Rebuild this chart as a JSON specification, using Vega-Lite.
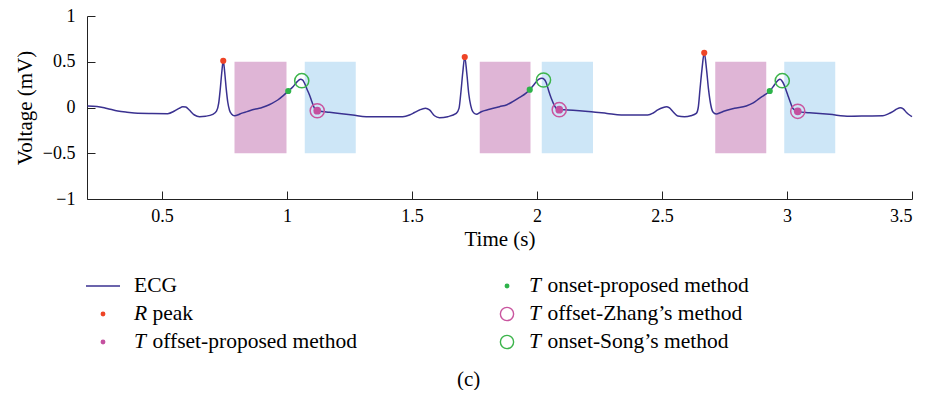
{
  "$schema": "https://vega.github.io/schema/vega-lite/v6.json",
  "padding": {"left": 14, "top": 7, "right": 0, "bottom": 0},
  "autosize": {"type": "pad"},
  "bounds": "flush",
  "spacing": 56,
  "config": {
    "view": {"stroke": null},
    "font": "Liberation Serif",
    "axis": {
      "grid": false,
      "domainColor": "#222222",
      "tickColor": "#222222",
      "domainWidth": 1,
      "tickWidth": 1,
      "tickSize": -8,
      "labelColor": "#000000",
      "titleColor": "#000000",
      "labelFont": "Liberation Serif",
      "titleFont": "Liberation Serif",
      "labelFontSize": 18,
      "titleFontSize": 21,
      "titleFontWeight": "normal"
    }
  },
  "title": {
    "text": "(c)",
    "orient": "bottom",
    "anchor": "middle",
    "dx": 4,
    "offset": 14,
    "fontSize": 21,
    "font": "Liberation Serif",
    "fontWeight": "normal",
    "color": "#000000"
  },
  "datasets": {
    "ecg": [
      {"t": 0.202, "v": 0.016}, {"t": 0.24, "v": 0.012}, {"t": 0.28, "v": -0.01}, {"t": 0.323, "v": -0.038},
      {"t": 0.36, "v": -0.052}, {"t": 0.403, "v": -0.064}, {"t": 0.46, "v": -0.066}, {"t": 0.523, "v": -0.067},
      {"t": 0.55, "v": -0.038}, {"t": 0.568, "v": -0.01}, {"t": 0.583, "v": 0.009}, {"t": 0.595, "v": 0.005},
      {"t": 0.608, "v": -0.025}, {"t": 0.63, "v": -0.082}, {"t": 0.65, "v": -0.1}, {"t": 0.675, "v": -0.095},
      {"t": 0.703, "v": -0.075}, {"t": 0.718, "v": -0.04}, {"t": 0.727, "v": 0.05}, {"t": 0.733, "v": 0.2},
      {"t": 0.739, "v": 0.38}, {"t": 0.745, "v": 0.511}, {"t": 0.751, "v": 0.38}, {"t": 0.757, "v": 0.2},
      {"t": 0.763, "v": 0.06}, {"t": 0.77, "v": -0.03}, {"t": 0.778, "v": -0.07}, {"t": 0.79, "v": -0.09},
      {"t": 0.805, "v": -0.08}, {"t": 0.817, "v": -0.064}, {"t": 0.84, "v": -0.045}, {"t": 0.87, "v": -0.02},
      {"t": 0.895, "v": -0.005}, {"t": 0.917, "v": 0.016}, {"t": 0.94, "v": 0.045}, {"t": 0.963, "v": 0.082},
      {"t": 0.985, "v": 0.13}, {"t": 1.005, "v": 0.18}, {"t": 1.025, "v": 0.23}, {"t": 1.04, "v": 0.28},
      {"t": 1.054, "v": 0.308}, {"t": 1.063, "v": 0.3}, {"t": 1.071, "v": 0.26}, {"t": 1.08, "v": 0.2},
      {"t": 1.09, "v": 0.137}, {"t": 1.1, "v": 0.06}, {"t": 1.11, "v": -0.009}, {"t": 1.121, "v": -0.035},
      {"t": 1.14, "v": -0.043}, {"t": 1.17, "v": -0.053}, {"t": 1.21, "v": -0.065}, {"t": 1.263, "v": -0.082},
      {"t": 1.317, "v": -0.1}, {"t": 1.39, "v": -0.1}, {"t": 1.463, "v": -0.1}, {"t": 1.49, "v": -0.082},
      {"t": 1.51, "v": -0.055}, {"t": 1.53, "v": -0.027}, {"t": 1.554, "v": -0.009}, {"t": 1.57, "v": -0.027},
      {"t": 1.59, "v": -0.09}, {"t": 1.61, "v": -0.111}, {"t": 1.643, "v": -0.1}, {"t": 1.677, "v": -0.064},
      {"t": 1.688, "v": -0.01}, {"t": 1.695, "v": 0.15}, {"t": 1.703, "v": 0.38}, {"t": 1.711, "v": 0.552},
      {"t": 1.719, "v": 0.38}, {"t": 1.727, "v": 0.15}, {"t": 1.735, "v": 0.02}, {"t": 1.743, "v": -0.046},
      {"t": 1.757, "v": -0.075}, {"t": 1.777, "v": -0.046}, {"t": 1.81, "v": -0.02}, {"t": 1.85, "v": 0.009},
      {"t": 1.88, "v": 0.03}, {"t": 1.903, "v": 0.064}, {"t": 1.93, "v": 0.11}, {"t": 1.955, "v": 0.155},
      {"t": 1.971, "v": 0.195}, {"t": 1.985, "v": 0.24}, {"t": 1.997, "v": 0.282}, {"t": 2.008, "v": 0.31},
      {"t": 2.019, "v": 0.319}, {"t": 2.03, "v": 0.305}, {"t": 2.037, "v": 0.27}, {"t": 2.047, "v": 0.18},
      {"t": 2.057, "v": 0.1}, {"t": 2.07, "v": 0.02}, {"t": 2.077, "v": -0.009}, {"t": 2.089, "v": -0.024},
      {"t": 2.123, "v": -0.027}, {"t": 2.17, "v": -0.035}, {"t": 2.217, "v": -0.046}, {"t": 2.28, "v": -0.065},
      {"t": 2.337, "v": -0.082}, {"t": 2.39, "v": -0.082}, {"t": 2.443, "v": -0.082}, {"t": 2.465, "v": -0.06},
      {"t": 2.483, "v": -0.027}, {"t": 2.505, "v": 0.0}, {"t": 2.517, "v": 0.009}, {"t": 2.53, "v": -0.005},
      {"t": 2.545, "v": -0.05}, {"t": 2.563, "v": -0.093}, {"t": 2.59, "v": -0.1}, {"t": 2.615, "v": -0.09},
      {"t": 2.637, "v": -0.064}, {"t": 2.645, "v": 0.0}, {"t": 2.652, "v": 0.2}, {"t": 2.66, "v": 0.42},
      {"t": 2.669, "v": 0.597}, {"t": 2.678, "v": 0.42}, {"t": 2.686, "v": 0.2}, {"t": 2.695, "v": 0.03},
      {"t": 2.703, "v": -0.046}, {"t": 2.717, "v": -0.071}, {"t": 2.735, "v": -0.055}, {"t": 2.75, "v": -0.038},
      {"t": 2.79, "v": -0.009}, {"t": 2.837, "v": 0.016}, {"t": 2.865, "v": 0.05}, {"t": 2.89, "v": 0.1},
      {"t": 2.912, "v": 0.14}, {"t": 2.931, "v": 0.18}, {"t": 2.944, "v": 0.225}, {"t": 2.954, "v": 0.264},
      {"t": 2.965, "v": 0.3}, {"t": 2.972, "v": 0.308}, {"t": 2.98, "v": 0.29}, {"t": 2.988, "v": 0.25},
      {"t": 2.995, "v": 0.2}, {"t": 3.003, "v": 0.137}, {"t": 3.013, "v": 0.06}, {"t": 3.023, "v": -0.009},
      {"t": 3.043, "v": -0.045}, {"t": 3.09, "v": -0.057}, {"t": 3.17, "v": -0.075}, {"t": 3.25, "v": -0.096},
      {"t": 3.32, "v": -0.093}, {"t": 3.383, "v": -0.09}, {"t": 3.405, "v": -0.07}, {"t": 3.423, "v": -0.046},
      {"t": 3.44, "v": -0.015}, {"t": 3.453, "v": -0.002}, {"t": 3.465, "v": -0.015}, {"t": 3.478, "v": -0.055},
      {"t": 3.49, "v": -0.082}, {"t": 3.5, "v": -0.1}
    ],
    "windows": [
      {"t": 0.79, "t2": 0.998, "kind": "onset window"},
      {"t": 1.771, "t2": 1.974, "kind": "onset window"},
      {"t": 2.713, "t2": 2.917, "kind": "onset window"},
      {"t": 1.071, "t2": 1.275, "kind": "offset window"},
      {"t": 2.019, "t2": 2.224, "kind": "offset window"},
      {"t": 2.989, "t2": 3.193, "kind": "offset window"}
    ],
    "markers": [
      {"key": "R peak", "t": 0.745, "v": 0.511},
      {"key": "R peak", "t": 1.711, "v": 0.552},
      {"key": "R peak", "t": 2.669, "v": 0.597},
      {"key": "T onset-proposed method", "t": 1.005, "v": 0.18},
      {"key": "T onset-proposed method", "t": 1.971, "v": 0.195},
      {"key": "T onset-proposed method", "t": 2.931, "v": 0.18},
      {"key": "T offset-proposed method", "t": 1.121, "v": -0.035},
      {"key": "T offset-proposed method", "t": 2.089, "v": -0.024},
      {"key": "T offset-proposed method", "t": 3.043, "v": -0.042},
      {"key": "T offset-Zhang’s method", "t": 1.121, "v": -0.035},
      {"key": "T offset-Zhang’s method", "t": 2.089, "v": -0.024},
      {"key": "T offset-Zhang’s method", "t": 3.043, "v": -0.042},
      {"key": "T onset-Song’s method", "t": 1.059, "v": 0.293},
      {"key": "T onset-Song’s method", "t": 2.026, "v": 0.3},
      {"key": "T onset-Song’s method", "t": 2.981, "v": 0.293}
    ],
    "legend": [
      {"key": "ECG", "col": 0, "row": 0, "prefix": "", "rest": "ECG"},
      {"key": "R peak", "col": 0, "row": 1, "prefix": "R", "rest": "peak"},
      {"key": "T offset-proposed method", "col": 0, "row": 2, "prefix": "T", "rest": "offset-proposed method"},
      {"key": "T onset-proposed method", "col": 1, "row": 0, "prefix": "T", "rest": "onset-proposed method"},
      {"key": "T offset-Zhang’s method", "col": 1, "row": 1, "prefix": "T", "rest": "offset-Zhang’s method"},
      {"key": "T onset-Song’s method", "col": 1, "row": 2, "prefix": "T", "rest": "onset-Song’s method"}
    ]
  },
  "vconcat": [
    {
      "width": 825,
      "height": 183,
      "layer": [
        {
          "data": {"name": "windows"},
          "mark": {"type": "rect"},
          "encoding": {
            "x": {"field": "t", "type": "quantitative", "title": "Time (s)",
                  "scale": {"domain": [0.2, 3.5], "nice": false, "zero": false},
                  "axis": {"values": [0.5, 1, 1.5, 2, 2.5, 3, 3.5], "format": ".1~f", "labelPadding": 16, "titlePadding": 3}},
            "x2": {"field": "t2"},
            "y": {"datum": -0.5, "type": "quantitative", "title": "Voltage (mV)",
                  "scale": {"domain": [-1, 1], "nice": false, "zero": false},
                  "axis": {"values": [-1, -0.5, 0, 0.5, 1], "format": ".1~f", "labelPadding": 20, "titlePadding": 7}},
            "y2": {"datum": 0.5},
            "fill": {"field": "kind", "type": "nominal", "legend": null,
                     "scale": {"domain": ["onset window", "offset window"], "range": ["#dfb5d6", "#cde6f7"]}}
          }
        },
        {
          "data": {"name": "ecg"},
          "mark": {"type": "line", "color": "#3a3190", "strokeWidth": 1.5, "interpolate": "monotone"},
          "encoding": {
            "x": {"field": "t", "type": "quantitative", "title": "Time (s)"},
            "y": {"field": "v", "type": "quantitative", "title": "Voltage (mV)"}
          }
        },
        {
          "data": {"name": "markers"},
          "transform": [{"filter": {"field": "key", "oneOf": ["R peak", "T onset-proposed method"]}}],
          "mark": {"type": "point", "filled": true, "size": 38, "opacity": 1},
          "encoding": {
            "x": {"field": "t", "type": "quantitative", "title": "Time (s)"},
            "y": {"field": "v", "type": "quantitative", "title": "Voltage (mV)"},
            "color": {"field": "key", "type": "nominal", "legend": null,
                      "scale": {"domain": ["R peak", "T offset-proposed method", "T onset-proposed method", "T offset-Zhang’s method", "T onset-Song’s method", "ECG"],
                                "range": ["#ee4426", "#c4509f", "#2db34a", "#c9559f", "#3cb44b", "#3a3190"]}}
          }
        },
        {
          "data": {"name": "markers"},
          "transform": [{"filter": {"field": "key", "oneOf": ["T offset-proposed method"]}}],
          "mark": {"type": "point", "filled": true, "size": 60, "opacity": 1},
          "encoding": {
            "x": {"field": "t", "type": "quantitative", "title": "Time (s)"},
            "y": {"field": "v", "type": "quantitative", "title": "Voltage (mV)"},
            "color": {"field": "key", "type": "nominal", "legend": null}
          }
        },
        {
          "data": {"name": "markers"},
          "transform": [{"filter": {"field": "key", "oneOf": ["T offset-Zhang’s method", "T onset-Song’s method"]}}],
          "mark": {"type": "point", "filled": false, "size": 200, "strokeWidth": 1.5, "opacity": 1},
          "encoding": {
            "x": {"field": "t", "type": "quantitative", "title": "Time (s)"},
            "y": {"field": "v", "type": "quantitative", "title": "Voltage (mV)"},
            "color": {"field": "key", "type": "nominal", "legend": null}
          }
        }
      ]
    },
    {
      "width": 825,
      "height": 100,
      "data": {"name": "legend"},
      "encoding": {
        "x": {"field": "col", "type": "quantitative", "axis": null, "scale": {"domain": [0, 1], "range": [16, 420]}},
        "y": {"field": "row", "type": "quantitative", "axis": null, "scale": {"domain": [0, 2], "range": [31, 87]}},
        "color": {"field": "key", "type": "nominal", "legend": null,
                  "scale": {"domain": ["R peak", "T offset-proposed method", "T onset-proposed method", "T offset-Zhang’s method", "T onset-Song’s method", "ECG"],
                            "range": ["#ee4426", "#c4509f", "#2db34a", "#c9559f", "#3cb44b", "#3a3190"]}}
      },
      "layer": [
        {
          "transform": [{"filter": {"field": "key", "equal": "ECG"}}],
          "mark": {"type": "point", "shape": "stroke", "size": 1156, "strokeWidth": 1.5, "filled": false, "opacity": 1}
        },
        {
          "transform": [{"filter": {"field": "key", "oneOf": ["R peak", "T offset-proposed method", "T onset-proposed method"]}}],
          "mark": {"type": "point", "filled": true, "size": 24, "opacity": 1}
        },
        {
          "transform": [{"filter": {"field": "key", "oneOf": ["T offset-Zhang’s method", "T onset-Song’s method"]}}],
          "mark": {"type": "point", "filled": false, "size": 175, "strokeWidth": 1.4, "opacity": 1}
        },
        {
          "transform": [{"filter": {"field": "prefix", "equal": ""}}],
          "mark": {"type": "text", "align": "left", "baseline": "middle", "dx": 31, "fontSize": 21.5, "font": "Liberation Serif"},
          "encoding": {"text": {"field": "rest"}, "color": {"value": "#000000"}}
        },
        {
          "transform": [{"filter": "datum.prefix != '' && datum.col == 0"}],
          "mark": {"type": "text", "align": "left", "baseline": "middle", "dx": 31, "fontSize": 21.5, "fontStyle": "italic", "font": "Liberation Serif"},
          "encoding": {"text": {"field": "prefix"}, "color": {"value": "#000000"}}
        },
        {
          "transform": [{"filter": "datum.prefix != '' && datum.col == 0"}],
          "mark": {"type": "text", "align": "left", "baseline": "middle", "dx": 49.5, "fontSize": 21.5, "font": "Liberation Serif"},
          "encoding": {"text": {"field": "rest"}, "color": {"value": "#000000"}}
        },
        {
          "transform": [{"filter": "datum.prefix != '' && datum.col == 1"}],
          "mark": {"type": "text", "align": "left", "baseline": "middle", "dx": 22, "fontSize": 21.5, "fontStyle": "italic", "font": "Liberation Serif"},
          "encoding": {"text": {"field": "prefix"}, "color": {"value": "#000000"}}
        },
        {
          "transform": [{"filter": "datum.prefix != '' && datum.col == 1"}],
          "mark": {"type": "text", "align": "left", "baseline": "middle", "dx": 40.5, "fontSize": 21.5, "font": "Liberation Serif"},
          "encoding": {"text": {"field": "rest"}, "color": {"value": "#000000"}}
        }
      ]
    }
  ]
}
